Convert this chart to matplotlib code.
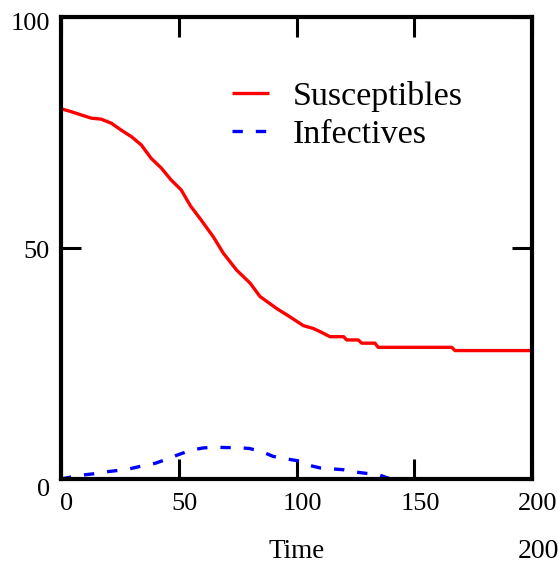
import matplotlib
matplotlib.use("Agg")
import matplotlib.pyplot as plt
import matplotlib.transforms as mtransforms

# ---- data ----
t_s = [0, 1, 4.4, 8.6, 12.9, 17, 21.4, 25.6, 29.9, 34.1, 38.3, 42.6, 46.8, 51, 55,
       59.3, 64.7, 68.9, 74.6, 80.3, 84.5, 91.6, 97.2, 102.9, 107, 110, 114.2, 120,
       121.3, 126.2, 127.7, 133.3, 134.7, 165.9, 167.3, 200]
susceptibles = [80, 80, 79.5, 78.8, 78.1, 77.9, 77, 75.5, 74.1, 72.3, 69.4, 67.3, 64.7,
                62.6, 59.1, 56.2, 52.4, 48.9, 45.2, 42.4, 39.5, 36.9, 35.1, 33.2, 32.6,
                31.9, 30.8, 30.8, 30.1, 30.1, 29.4, 29.4, 28.5, 28.5, 27.8, 27.8]

t_i = [0, 5, 10, 15, 20, 25, 30, 35, 40, 45, 50, 55, 60, 65, 70, 75, 80, 85, 90, 95,
       100, 105, 110, 115, 120, 125, 130, 135, 140, 150, 200]
infectives = [0.0, 0.5, 0.9, 1.2, 1.6, 1.9, 2.3, 2.9, 3.4, 4.3, 5.3, 6.2, 6.7, 6.9, 6.8,
              6.8, 6.6, 6.0, 4.9, 4.4, 4.0, 3.0, 2.4, 2.2, 2.0, 1.5, 1.2, 0.9, 0.0, 0, 0]

x_ticks = [0, 50, 100, 150, 200]
y_ticks = [0, 50, 100]
series_names = ["Susceptibles", "Infectives"]

SERIF = ["Liberation Serif", "DejaVu Serif"]

fig = plt.figure(figsize=(5.58, 5.63), dpi=100)
ax = fig.add_axes([61/558, 1 - 479/563, (532 - 61)/558, (479 - 17)/563])

ax.plot(t_s, susceptibles, color="#ff0000", lw=2.4, label=series_names[0],
        solid_capstyle="butt", zorder=3)
ax.plot(t_i, infectives, color="#0000ff", lw=2.4, linestyle=(0, (3.1, 3.9)),
        label=series_names[1], dash_capstyle="butt", zorder=3)

ax.set_xlim(0, 200)
ax.set_ylim(0, 100)
ax.set_xticks(x_ticks)
ax.set_yticks(y_ticks)
ax.set_xticklabels([str(v) for v in x_ticks], fontfamily=SERIF, fontsize=19)
ax.set_yticklabels([str(v) for v in y_ticks], fontfamily=SERIF, fontsize=19)
ax.tick_params(axis="both", direction="in", length=14.5, width=2.2,
               top=True, right=True, color="black")
ax.tick_params(axis="x", pad=10)
ax.tick_params(axis="y", pad=8)

for sp in ax.spines.values():
    sp.set_linewidth(3.0)
    sp.set_color("black")
    sp.set_zorder(4)

# shift tick labels like the reference
dx = mtransforms.ScaledTranslation(6/100, 0, fig.dpi_scale_trans)
for lab in ax.get_xticklabels():
    lab.set_transform(lab.get_transform() + dx)
yshift = {"100": -5, "50": -1, "0": -8}
for lab in ax.get_yticklabels():
    off = mtransforms.ScaledTranslation(0, yshift.get(lab.get_text(), -4)/100, fig.dpi_scale_trans)
    lab.set_transform(lab.get_transform() + off)

ax.set_xlabel("Time", fontfamily=SERIF, fontsize=19.5, labelpad=17.5)

fig.text(538/558, 1 - 552/563, "200", fontfamily=SERIF, fontsize=20,
         ha="center", va="center")

leg = ax.legend(loc="center left", bbox_to_anchor=(0.363, 0.787), frameon=False,
                prop={"family": SERIF, "size": 24.5}, handlelength=1.1,
                handletextpad=0.68, labelspacing=0.2, borderpad=0, borderaxespad=0)

fig.savefig("out.png", dpi=100)
